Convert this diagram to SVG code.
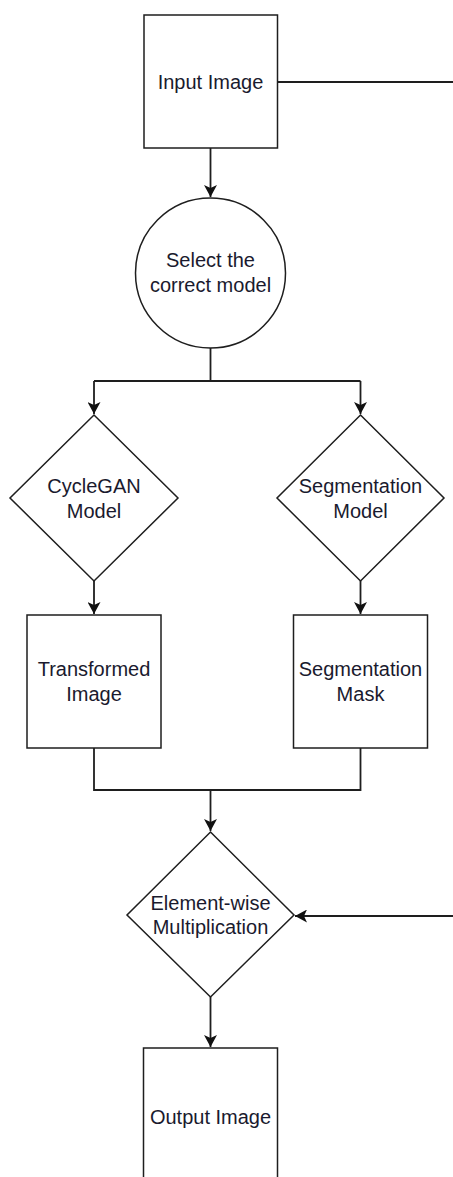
<svg xmlns="http://www.w3.org/2000/svg" width="453" height="1177" viewBox="0 0 453 1177">
  <style>
    .shape { fill: #ffffff; stroke: #1e1e1e; stroke-width: 1.5; }
    .edge { fill: none; stroke: #1e1e1e; stroke-width: 1.8; }
    .label { font-family: "Liberation Sans", Arial, sans-serif; font-size: 20px; fill: #1a1a2e; text-anchor: middle; }
  </style>
  <defs>
    <marker id="arrow" markerUnits="userSpaceOnUse" markerWidth="12" markerHeight="13" viewBox="0 0 12 13" refX="12" refY="6.5" orient="auto">
      <path d="M0,0 L12,6.5 L0,13 L3,6.5 Z" fill="#111"/>
    </marker>
  </defs>

  <rect width="453" height="1177" fill="#ffffff"/>

  <!-- connectors -->
  <g id="connectors">
    <path class="edge" d="M210.5,148 V197" marker-end="url(#arrow)"/>
    <path class="edge" d="M277.5,82 H453"/>
    <path class="edge" d="M210.5,348 V381"/>
    <path class="edge" d="M94,381 H360.5"/>
    <path class="edge" d="M94,381 V414" marker-end="url(#arrow)"/>
    <path class="edge" d="M360.5,381 V414" marker-end="url(#arrow)"/>
    <path class="edge" d="M94,581 V614" marker-end="url(#arrow)"/>
    <path class="edge" d="M360.5,581 V614" marker-end="url(#arrow)"/>
    <path class="edge" d="M94,748 V790 H360.5 V748"/>
    <path class="edge" d="M210.5,790 V831" marker-end="url(#arrow)"/>
    <path class="edge" d="M453,916 H295" marker-end="url(#arrow)"/>
    <path class="edge" d="M210.5,997 V1047" marker-end="url(#arrow)"/>
  </g>

  <!-- nodes -->
  <g id="input-image">
    <rect class="shape" x="144" y="15" width="133.5" height="133"/>
    <text class="label" x="210.5" y="89">Input Image</text>
  </g>

  <g id="select-model">
    <circle class="shape" cx="210.5" cy="273" r="75"/>
    <text class="label" x="210.5" y="267">Select the</text>
    <text class="label" x="210.5" y="292">correct model</text>
  </g>

  <g id="cyclegan-model">
    <polygon class="shape" points="94,415 178,498 94,581 10,498"/>
    <text class="label" x="94" y="493">CycleGAN</text>
    <text class="label" x="94" y="518">Model</text>
  </g>

  <g id="segmentation-model">
    <polygon class="shape" points="360.5,415 444,498 360.5,581 277,498"/>
    <text class="label" x="360.5" y="493">Segmentation</text>
    <text class="label" x="360.5" y="518">Model</text>
  </g>

  <g id="transformed-image">
    <rect class="shape" x="27" y="615" width="134" height="133"/>
    <text class="label" x="94" y="676">Transformed</text>
    <text class="label" x="94" y="701">Image</text>
  </g>

  <g id="segmentation-mask">
    <rect class="shape" x="293.5" y="615" width="134" height="133"/>
    <text class="label" x="360.5" y="676">Segmentation</text>
    <text class="label" x="360.5" y="701">Mask</text>
  </g>

  <g id="element-wise-multiplication">
    <polygon class="shape" points="210.5,832 294,915 210.5,997 127,915"/>
    <text class="label" x="210.5" y="910">Element-wise</text>
    <text class="label" x="210.5" y="934">Multiplication</text>
  </g>

  <g id="output-image">
    <rect class="shape" x="143.5" y="1048" width="134" height="140"/>
    <text class="label" x="210.5" y="1124">Output Image</text>
  </g>
</svg>
